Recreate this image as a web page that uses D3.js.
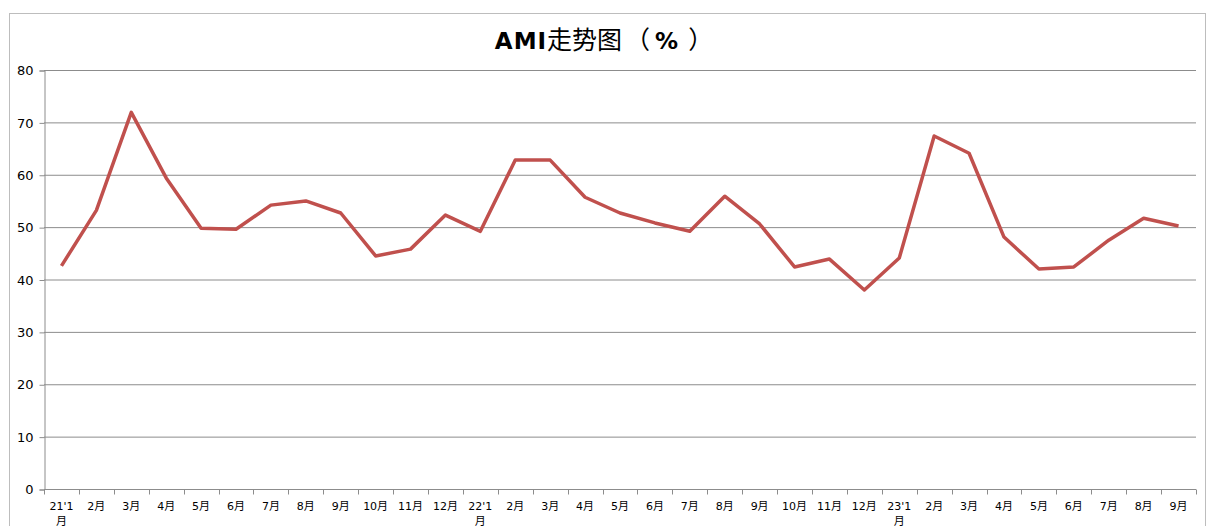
<!DOCTYPE html>
<html><head><meta charset="utf-8">
<script src="https://cdn.jsdelivr.net/npm/d3@7"></script>
<style>body{margin:0;background:#fff;}svg{display:block;}</style>
</head><body>
<svg id="chart" width="1208" height="526"></svg>
<script>
const categories = ["21'1\n月","2月","3月","4月","5月","6月","7月","8月","9月","10月","11月","12月",
  "22'1\n月","2月","3月","4月","5月","6月","7月","8月","9月","10月","11月","12月",
  "23'1\n月","2月","3月","4月","5月","6月","7月","8月","9月"];
const amiValues = [42.6,53.2,71.9,59.4,49.8,49.6,54.2,55.0,52.7,44.5,45.8,52.3,
  49.2,62.8,62.8,55.7,52.7,50.8,49.2,55.9,50.6,42.4,43.9,38.0,
  44.1,67.4,64.1,48.1,42.0,42.4,47.5,51.7,50.2];
const yTicks = [0,10,20,30,40,50,60,70,80];
const titleParts = [["AMI","bold","latin",0],["走势图","normal","cjk",0],["（","normal","cjk",3],["%","bold","latin",5],["）","normal","cjk",9]];

const svg = d3.select("#chart");
const m = {left:44, right:1196, top:70, bottom:489};
// outer border
svg.append("rect").attr("x",9.5).attr("y",13.5).attr("width",1196).attr("height",520)
  .attr("fill","none").attr("stroke","#bdbdbd").attr("stroke-width",1);

const tt = svg.append("text").attr("x",604).attr("y",49).attr("text-anchor","middle").attr("fill","#000");
tt.selectAll("tspan").data(titleParts).join("tspan")
  .attr("font-weight",d=>d[1])
  .attr("font-family",d=>d[2]==="latin"?"'DejaVu Sans',sans-serif":"'Noto Sans CJK SC',sans-serif")
  .attr("font-size",d=>d[2]==="latin"?23:25)
  .attr("letter-spacing",d=>d[2]==="latin"?1:0)
  .attr("dx",d=>d[3])
  .text(d=>d[0]);

const x = d3.scaleBand().domain(d3.range(categories.length)).range([m.left,m.right]);
const y = d3.scaleLinear().domain([0,80]).range([m.bottom,m.top]);

// gridlines
svg.append("g").selectAll("line").data(yTicks.filter(d=>d>0)).join("line")
  .attr("x1",m.left).attr("x2",m.right).attr("y1",d=>y(d)+0.5).attr("y2",d=>y(d)+0.5)
  .attr("stroke","#8c8c8c").attr("stroke-width",1);

// y axis
const yAxis = svg.append("g").attr("transform",`translate(${m.left+0.5},0.5)`)
  .call(d3.axisLeft(y).tickValues(yTicks).tickSize(5).tickPadding(6));
yAxis.select(".domain").attr("stroke","#8c8c8c");
yAxis.selectAll(".tick line").attr("stroke","#8c8c8c");
yAxis.selectAll("text").attr("font-family","'DejaVu Sans',sans-serif").attr("font-size",13).attr("fill","#000");

// x axis
const xg = svg.append("g").attr("transform",`translate(0,${m.bottom+0.5})`);
xg.append("line").attr("x1",m.left).attr("x2",m.right).attr("stroke","#8c8c8c");
xg.selectAll("line.t").data(d3.range(categories.length+1)).join("line").attr("class","t")
  .attr("x1",i=>Math.round(m.left + i*x.step())+0.5).attr("x2",i=>Math.round(m.left + i*x.step())+0.5)
  .attr("y1",0).attr("y2",5).attr("stroke","#8c8c8c");
const lbl = xg.selectAll("text").data(categories).join("text")
  .attr("font-family","'DejaVu Sans','Noto Sans CJK SC',sans-serif").attr("font-size",11)
  .attr("fill","#000").attr("text-anchor","middle");
lbl.each(function(d,i){
  const parts = d.split("\n");
  const t = d3.select(this);
  parts.forEach((p,j)=>{
    t.append("tspan").attr("x",x(i)+x.bandwidth()/2).attr("y",20+j*15).text(p);
  });
});

// line
const line = d3.line().x((d,i)=>x(i)+x.bandwidth()/2).y(d=>y(d));
svg.append("path").datum(amiValues).attr("d",line).attr("fill","none")
  .attr("stroke","#C0504D").attr("stroke-width",3.5).attr("stroke-linejoin","round");
</script>
</body></html>
